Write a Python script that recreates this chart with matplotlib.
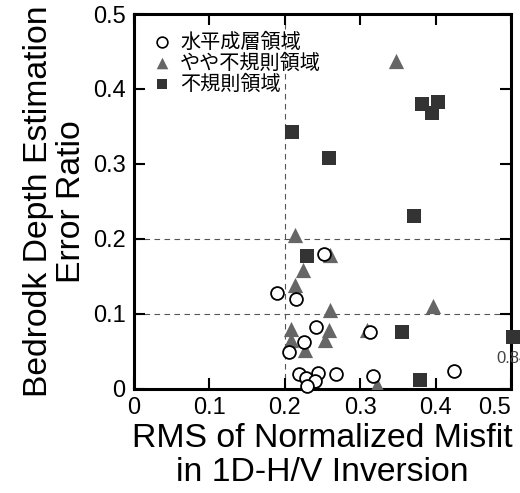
import numpy as np
import matplotlib
matplotlib.use("Agg")
import matplotlib.pyplot as plt

plt.rcParams['font.family'] = ['Liberation Sans', 'Noto Sans CJK JP', 'DejaVu Sans']

# 水平成層領域 (circles)
flat_x = [0.252, 0.190, 0.215, 0.241, 0.226, 0.206, 0.313, 0.425,
          0.219, 0.228, 0.244, 0.240, 0.230, 0.268, 0.317]
flat_y = [0.180, 0.128, 0.120, 0.082, 0.063, 0.049, 0.076, 0.024,
          0.020, 0.014, 0.021, 0.010, 0.004, 0.020, 0.017]

# やや不規則領域 (triangles)
semi_x = [0.348, 0.213, 0.260, 0.224, 0.213, 0.260, 0.396, 0.208,
          0.258, 0.309, 0.208, 0.253, 0.227, 0.322]
semi_y = [0.437, 0.205, 0.179, 0.159, 0.139, 0.105, 0.110, 0.080,
          0.079, 0.078, 0.065, 0.065, 0.052, 0.005]

# 不規則領域 (squares)
irr_x = [0.210, 0.258, 0.382, 0.403, 0.395, 0.372, 0.230, 0.356, 0.84, 0.379]
irr_y = [0.343, 0.308, 0.380, 0.383, 0.368, 0.231, 0.177, 0.076, 0.069, 0.012]

labels = ['水平成層領域', 'やや不規則領域', '不規則領域']
ticks = [0, 0.1, 0.2, 0.3, 0.4, 0.5]
tick_labels = ['0', '0.1', '0.2', '0.3', '0.4', '0.5']
xmax = 0.5

fig = plt.figure(figsize=(5.2, 4.93), dpi=100)
ax = fig.add_axes([0.2577, 0.2110, 0.7250, 0.7606])

# guide lines
for yv in [0.1, 0.2]:
    ax.axhline(yv, color='#555555', lw=0.8, ls=(0, (5, 4)), zorder=1)
ax.axvline(0.2, color='#555555', lw=0.8, ls=(0, (5, 4)), zorder=1)

# out-of-range points are pinned to the right edge and annotated
irr_xa = np.array(irr_x)
irr_plot_x = np.minimum(irr_xa, xmax + 0.002)

ax.scatter(semi_x, semi_y, marker='^', s=120, color='#666666', lw=0, zorder=3)
ax.scatter(irr_plot_x, irr_y, marker='s', s=95, color='#333333', lw=0,
           zorder=4, clip_on=False)
ax.scatter(flat_x, flat_y, marker='o', s=85, facecolor='white',
           edgecolor='black', lw=1.3, zorder=5, clip_on=False)

for xv, xp, yv in zip(irr_xa, irr_plot_x, irr_y):
    if xv > xmax:
        ax.annotate(f'{xv:.2f}', (xp, yv), xytext=(0, -10),
                    textcoords='offset points', ha='center', va='top',
                    fontsize=12, color='#444444', annotation_clip=False)

ax.set_xlim(0, xmax)
ax.set_ylim(0, 0.5)
ax.set_xticks(ticks)
ax.set_xticklabels(tick_labels)
ax.set_yticks(ticks)
ax.set_yticklabels(tick_labels)
ax.tick_params(direction='in', length=8, width=1.5, labelsize=17,
               top=True, right=True, pad=6)
ax.get_xticklabels()[-1].set_horizontalalignment('right')
for sp in ax.spines.values():
    sp.set_linewidth(2.2)

ax.set_xlabel('RMS of Normalized Misfit\nin 1D-H/V Inversion',
              fontsize=24.3, linespacing=1.1, labelpad=3)
ax.set_ylabel('Bedrodk Depth Estimation\nError Ratio',
              fontsize=24.3, linespacing=1.1, labelpad=4)

# legend
h1 = ax.scatter([], [], marker='o', s=60, facecolor='white', edgecolor='black', lw=1.2)
h2 = ax.scatter([], [], marker='^', s=70, color='#666666', lw=0)
h3 = ax.scatter([], [], marker='s', s=55, color='#333333', lw=0)
leg = ax.legend([h1, h2, h3], labels, loc='upper left', frameon=False,
                prop={'family': ['Noto Sans CJK JP'], 'size': 14.5},
                handletextpad=0.3, labelspacing=0.0, borderaxespad=0.2,
                handlelength=1.2, bbox_to_anchor=(0.01, 0.985))

fig.savefig('out.png', dpi=100)
